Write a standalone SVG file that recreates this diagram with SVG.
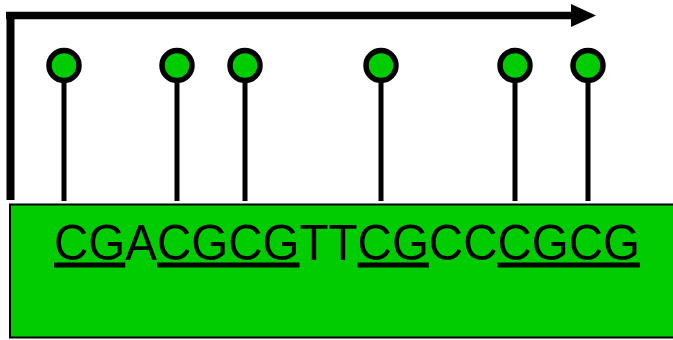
<svg xmlns="http://www.w3.org/2000/svg" width="673" height="340" viewBox="0 0 673 340">
<style>
.stem{stroke:#000;stroke-width:5;fill:none}
.head{fill:#00CC00;stroke:#000;stroke-width:5.5}
.u{text-decoration:underline}
.seq{font-family:"Liberation Sans",Arial,sans-serif;font-size:50px;fill:#000}
</style>
<g id="connectors">
<path d="M6 15.5 H574" stroke="#000" stroke-width="7.5" fill="none"/>
<polygon points="571,4 596,15.5 571,27" fill="#000"/>
<path d="M10.5 19 V200" stroke="#000" stroke-width="8" fill="none"/>
</g>
<g id="box">
<rect x="10" y="204.5" width="670" height="133" fill="#00CC00" stroke="#000" stroke-width="2"/>
<text class="seq" x="54" y="259.5" textLength="586" lengthAdjust="spacingAndGlyphs"><tspan class="u">CG</tspan>A<tspan class="u">CGCG</tspan>TT<tspan class="u">CG</tspan>CC<tspan class="u">CGCG</tspan></text>
</g>
<g id="pin1"><line class="stem" x1="64" y1="80" x2="64" y2="201"/><circle class="head" cx="64" cy="65.5" r="15"/></g>
<g id="pin2"><line class="stem" x1="177" y1="80" x2="177" y2="201"/><circle class="head" cx="177" cy="65.5" r="15"/></g>
<g id="pin3"><line class="stem" x1="245" y1="80" x2="245" y2="201"/><circle class="head" cx="245" cy="65.5" r="15"/></g>
<g id="pin4"><line class="stem" x1="381" y1="80" x2="381" y2="201"/><circle class="head" cx="381" cy="65.5" r="15"/></g>
<g id="pin5"><line class="stem" x1="515" y1="80" x2="515" y2="201"/><circle class="head" cx="515" cy="65.5" r="15"/></g>
<g id="pin6"><line class="stem" x1="588" y1="80" x2="588" y2="201"/><circle class="head" cx="588" cy="65.5" r="15"/></g>
</svg>
